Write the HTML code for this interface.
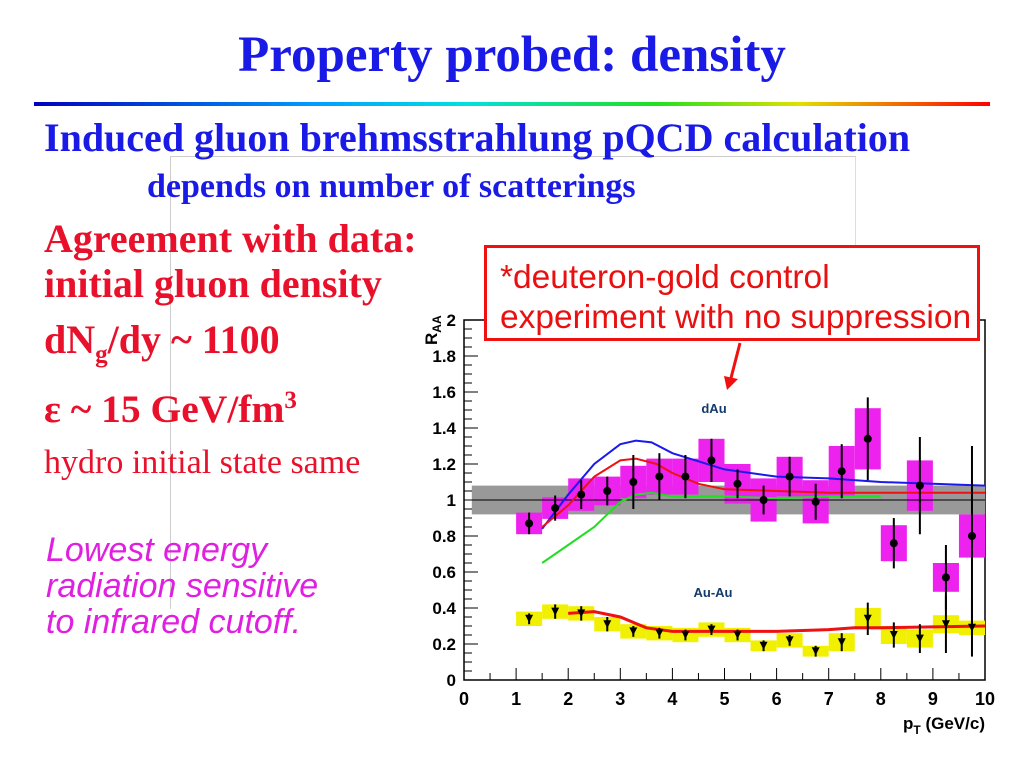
<!DOCTYPE html>
<html><head><meta charset="utf-8"><style>
body{margin:0;width:1024px;height:768px;background:#fff;overflow:hidden;position:relative;font-family:"Liberation Serif",serif}
.t{position:absolute;white-space:nowrap;font-weight:bold;line-height:1}
</style></head><body>
<div style="position:absolute;left:170px;top:156px;width:684px;height:452px;border-left:1px solid #ccc;border-top:1px solid #ccc;border-right:1px solid #ddd"></div>
<div class="t" style="left:0;width:1024px;text-align:center;top:30px;font-size:51px;color:#1a1ae6">Property probed: density</div>
<div style="position:absolute;left:34px;top:102px;width:956px;height:4px;background:linear-gradient(90deg,#0000c0,#00a0ff 30%,#00e0e0 45%,#20e020 65%,#e0e000 80%,#ff0000)"></div>
<div class="t" style="left:44px;top:118px;font-size:40px;color:#1a1ae6">Induced gluon brehmsstrahlung pQCD calculation</div>
<div class="t" style="left:147px;top:170px;font-size:34px;color:#1a1ae6">depends on number of scatterings</div>
<div class="t" style="left:44px;top:216px;font-size:40px;color:#e8102a;line-height:45px">Agreement with data:<br>initial gluon density</div>
<div class="t" style="left:44px;top:320px;font-size:40px;color:#e8102a">dN<sub style="font-size:25px">g</sub>/dy ~ 1100</div>
<div class="t" style="left:44px;top:388px;font-size:39.5px;color:#e8102a">ε ~ 15 GeV/fm<sup style="font-size:25px">3</sup></div>
<div class="t" style="left:44px;top:446px;font-size:34px;color:#e8102a;font-weight:normal">hydro initial state same</div>
<div class="t" style="left:46px;top:532px;font-size:34px;color:#e020e0;font-weight:normal;font-style:italic;font-family:'Liberation Sans',sans-serif;line-height:36px">Lowest energy<br>radiation sensitive<br>to infrared cutoff.</div>
<svg id="c" width="1024" height="768" style="position:absolute;left:0;top:0"></svg>
<div style="position:absolute;left:484px;top:245px;width:496px;height:96px;border:3px solid #f01010;background:#fff;font-family:'Liberation Sans',sans-serif;font-size:33.5px;color:#e81010;line-height:40px;padding:10px 0 0 13px;box-sizing:border-box;white-space:nowrap">*deuteron-gold control<br>experiment with no suppression</div>
<script>
const xs=[1.25,1.75,2.25,2.75,3.25,3.75,4.25,4.75,5.25,5.75,6.25,6.75,7.25,7.75,8.25,8.75,9.25,9.75];
const dau=[0.87,0.955,1.03,1.05,1.10,1.13,1.13,1.22,1.09,1.0,1.13,0.99,1.16,1.34,0.76,1.08,0.57,0.80];
const dauErr=[0.06,0.07,0.08,0.08,0.15,0.13,0.12,0.12,0.08,0.08,0.11,0.1,0.15,0.23,0.14,0.27,0.18,0.5];
const dauSys=[0.06,0.06,0.09,0.08,0.09,0.1,0.1,0.12,0.11,0.12,0.11,0.12,0.14,0.17,0.1,0.14,0.08,0.12];
const auau=[0.34,0.38,0.37,0.31,0.27,0.26,0.25,0.28,0.25,0.19,0.22,0.16,0.21,0.34,0.25,0.23,0.31,0.29];
const auauErr=[0.03,0.04,0.04,0.04,0.03,0.03,0.03,0.03,0.03,0.03,0.03,0.03,0.05,0.09,0.07,0.08,0.16,0.16];
const auauSys=[0.04,0.04,0.04,0.04,0.04,0.04,0.04,0.04,0.04,0.03,0.04,0.03,0.05,0.06,0.05,0.05,0.05,0.04];
const blueX=[1.5,2,2.5,3,3.3,3.6,4,5,6,7,8,9,10];
const blueY=[0.84,1.03,1.2,1.31,1.33,1.32,1.26,1.17,1.13,1.12,1.1,1.09,1.08];
const redX=[1.5,2,2.5,3,3.3,3.7,4,4.5,5,6,7,8,9,10];
const redY=[0.85,0.97,1.13,1.22,1.23,1.2,1.15,1.09,1.06,1.05,1.04,1.04,1.04,1.04];
const greenX=[1.5,2,2.5,3,3.3,3.6,4,5,6,7,8];
const greenY=[0.65,0.75,0.85,0.99,1.03,1.04,1.02,1.02,1.01,1.02,1.02];
const aaX=[2,2.5,3,3.5,4,5,6,7,7.5,8,9,10];
const aaY=[0.37,0.38,0.35,0.29,0.27,0.27,0.27,0.28,0.29,0.29,0.295,0.30];
const yTicks=[0,0.2,0.4,0.6,0.8,1,1.2,1.4,1.6,1.8,2];
const yLabels=["0","0.2","0.4","0.6","0.8","1","1.2","1.4","1.6","1.8","2"];
const xTicks=[0,1,2,3,4,5,6,7,8,9,10];
const svg=document.getElementById('c');const NS='http://www.w3.org/2000/svg';
const X=v=>464+v*52.1, Y=v=>680-v*180;
function mk(t,a,p){const e=document.createElementNS(NS,t);for(const k in a)e.setAttribute(k,a[k]);(p||svg).appendChild(e);return e;}
const frame=mk('rect',{x:464,y:320,width:521,height:360,fill:'#fff',stroke:'#000','stroke-width':1.5});

const band=mk('rect',{x:X(0.15),y:Y(1.08),width:X(10)-X(0.15),height:Y(0.92)-Y(1.08),fill:'#999'});

xs.forEach((x,i)=>{const r=mk('rect',{x:X(x-0.25),y:Y(dau[i]+dauSys[i]),width:X(0.5)-X(0),height:dauSys[i]*2*180,fill:'#ee22ee'});

const q=mk('rect',{x:X(x-0.25),y:Y(auau[i]+auauSys[i]),width:X(0.5)-X(0),height:auauSys[i]*2*180,fill:'#f0f000'});
});
const one=mk('line',{x1:464,x2:985,y1:Y(1),y2:Y(1),stroke:'#000','stroke-width':1});

function line(xa,ya,col,w,name){const l=mk('polyline',{points:xa.map((x,i)=>X(x)+','+Y(ya[i])).join(' '),fill:'none',stroke:col,'stroke-width':w});
}
line(greenX,greenY,'#22dd22',2,'green-curve');
line(blueX,blueY,'#1a1aee',2,'blue-curve');
line(redX,redY,'#ee1111',2,'red-curve');
line(aaX,aaY,'#ee1111',3,'auau-curve');
xs.forEach((x,i)=>{
const e=mk('line',{x1:X(x),x2:X(x),y1:Y(dau[i]+dauErr[i]),y2:Y(Math.max(0,dau[i]-dauErr[i])),stroke:'#000','stroke-width':2});

const c=mk('circle',{cx:X(x),cy:Y(dau[i]),r:4,fill:'#000'});

const f=mk('line',{x1:X(x),x2:X(x),y1:Y(auau[i]+auauErr[i]),y2:Y(Math.max(0,auau[i]-auauErr[i])),stroke:'#000','stroke-width':2});

const px=X(x),py=Y(auau[i]);
const t=mk('polygon',{points:`${px-4},${py-4} ${px+4},${py-4} ${px},${py+4}`,fill:'#000'});
});
for(let v=0;v<=2.001;v+=0.05){const big=Math.abs(v*5-Math.round(v*5))<1e-6;mk('line',{x1:464,x2:464+(big?14:8),y1:Y(v),y2:Y(v),stroke:'#000'});}
for(let v=0;v<=10.001;v+=0.5){const big=Math.abs(v-Math.round(v))<1e-6;mk('line',{x1:X(v),x2:X(v),y1:680,y2:680-(big?12:7),stroke:'#000'});}
yTicks.forEach((v,i)=>{const t=mk('text',{x:456,y:Y(v)+6,'text-anchor':'end','font-family':'Liberation Sans,sans-serif','font-weight':'bold','font-size':17});t.textContent=yLabels[i];
});
xTicks.forEach(v=>{const t=mk('text',{x:X(v),y:705,'text-anchor':'middle','font-family':'Liberation Sans,sans-serif','font-weight':'bold','font-size':18});t.textContent=v;
});
const yt=mk('text',{transform:'translate(437,345) rotate(-90)','font-family':'Liberation Sans,sans-serif','font-weight':'bold','font-size':17});yt.innerHTML='R<tspan font-size="12" dy="4">AA</tspan>';

const xt=mk('text',{x:985,y:729,'text-anchor':'end','font-family':'Liberation Sans,sans-serif','font-weight':'bold','font-size':17});xt.innerHTML='p<tspan font-size="12" dy="5">T</tspan><tspan dy="-5"> (GeV/c)</tspan>';

const l1=mk('text',{x:714,y:413,'text-anchor':'middle','font-family':'Liberation Sans,sans-serif','font-weight':'bold','font-size':13,fill:'#123a6a'});l1.textContent='dAu';

const l2=mk('text',{x:713,y:597,'text-anchor':'middle','font-family':'Liberation Sans,sans-serif','font-weight':'bold','font-size':13,fill:'#123a6a'});l2.textContent='Au-Au';

const ar=mk('line',{x1:740,y1:343,x2:731,y2:378,stroke:'#f01010','stroke-width':3});

const ah=mk('polygon',{points:'724,376 738,379 727,390',fill:'#f01010'});

</script>
</body></html>
